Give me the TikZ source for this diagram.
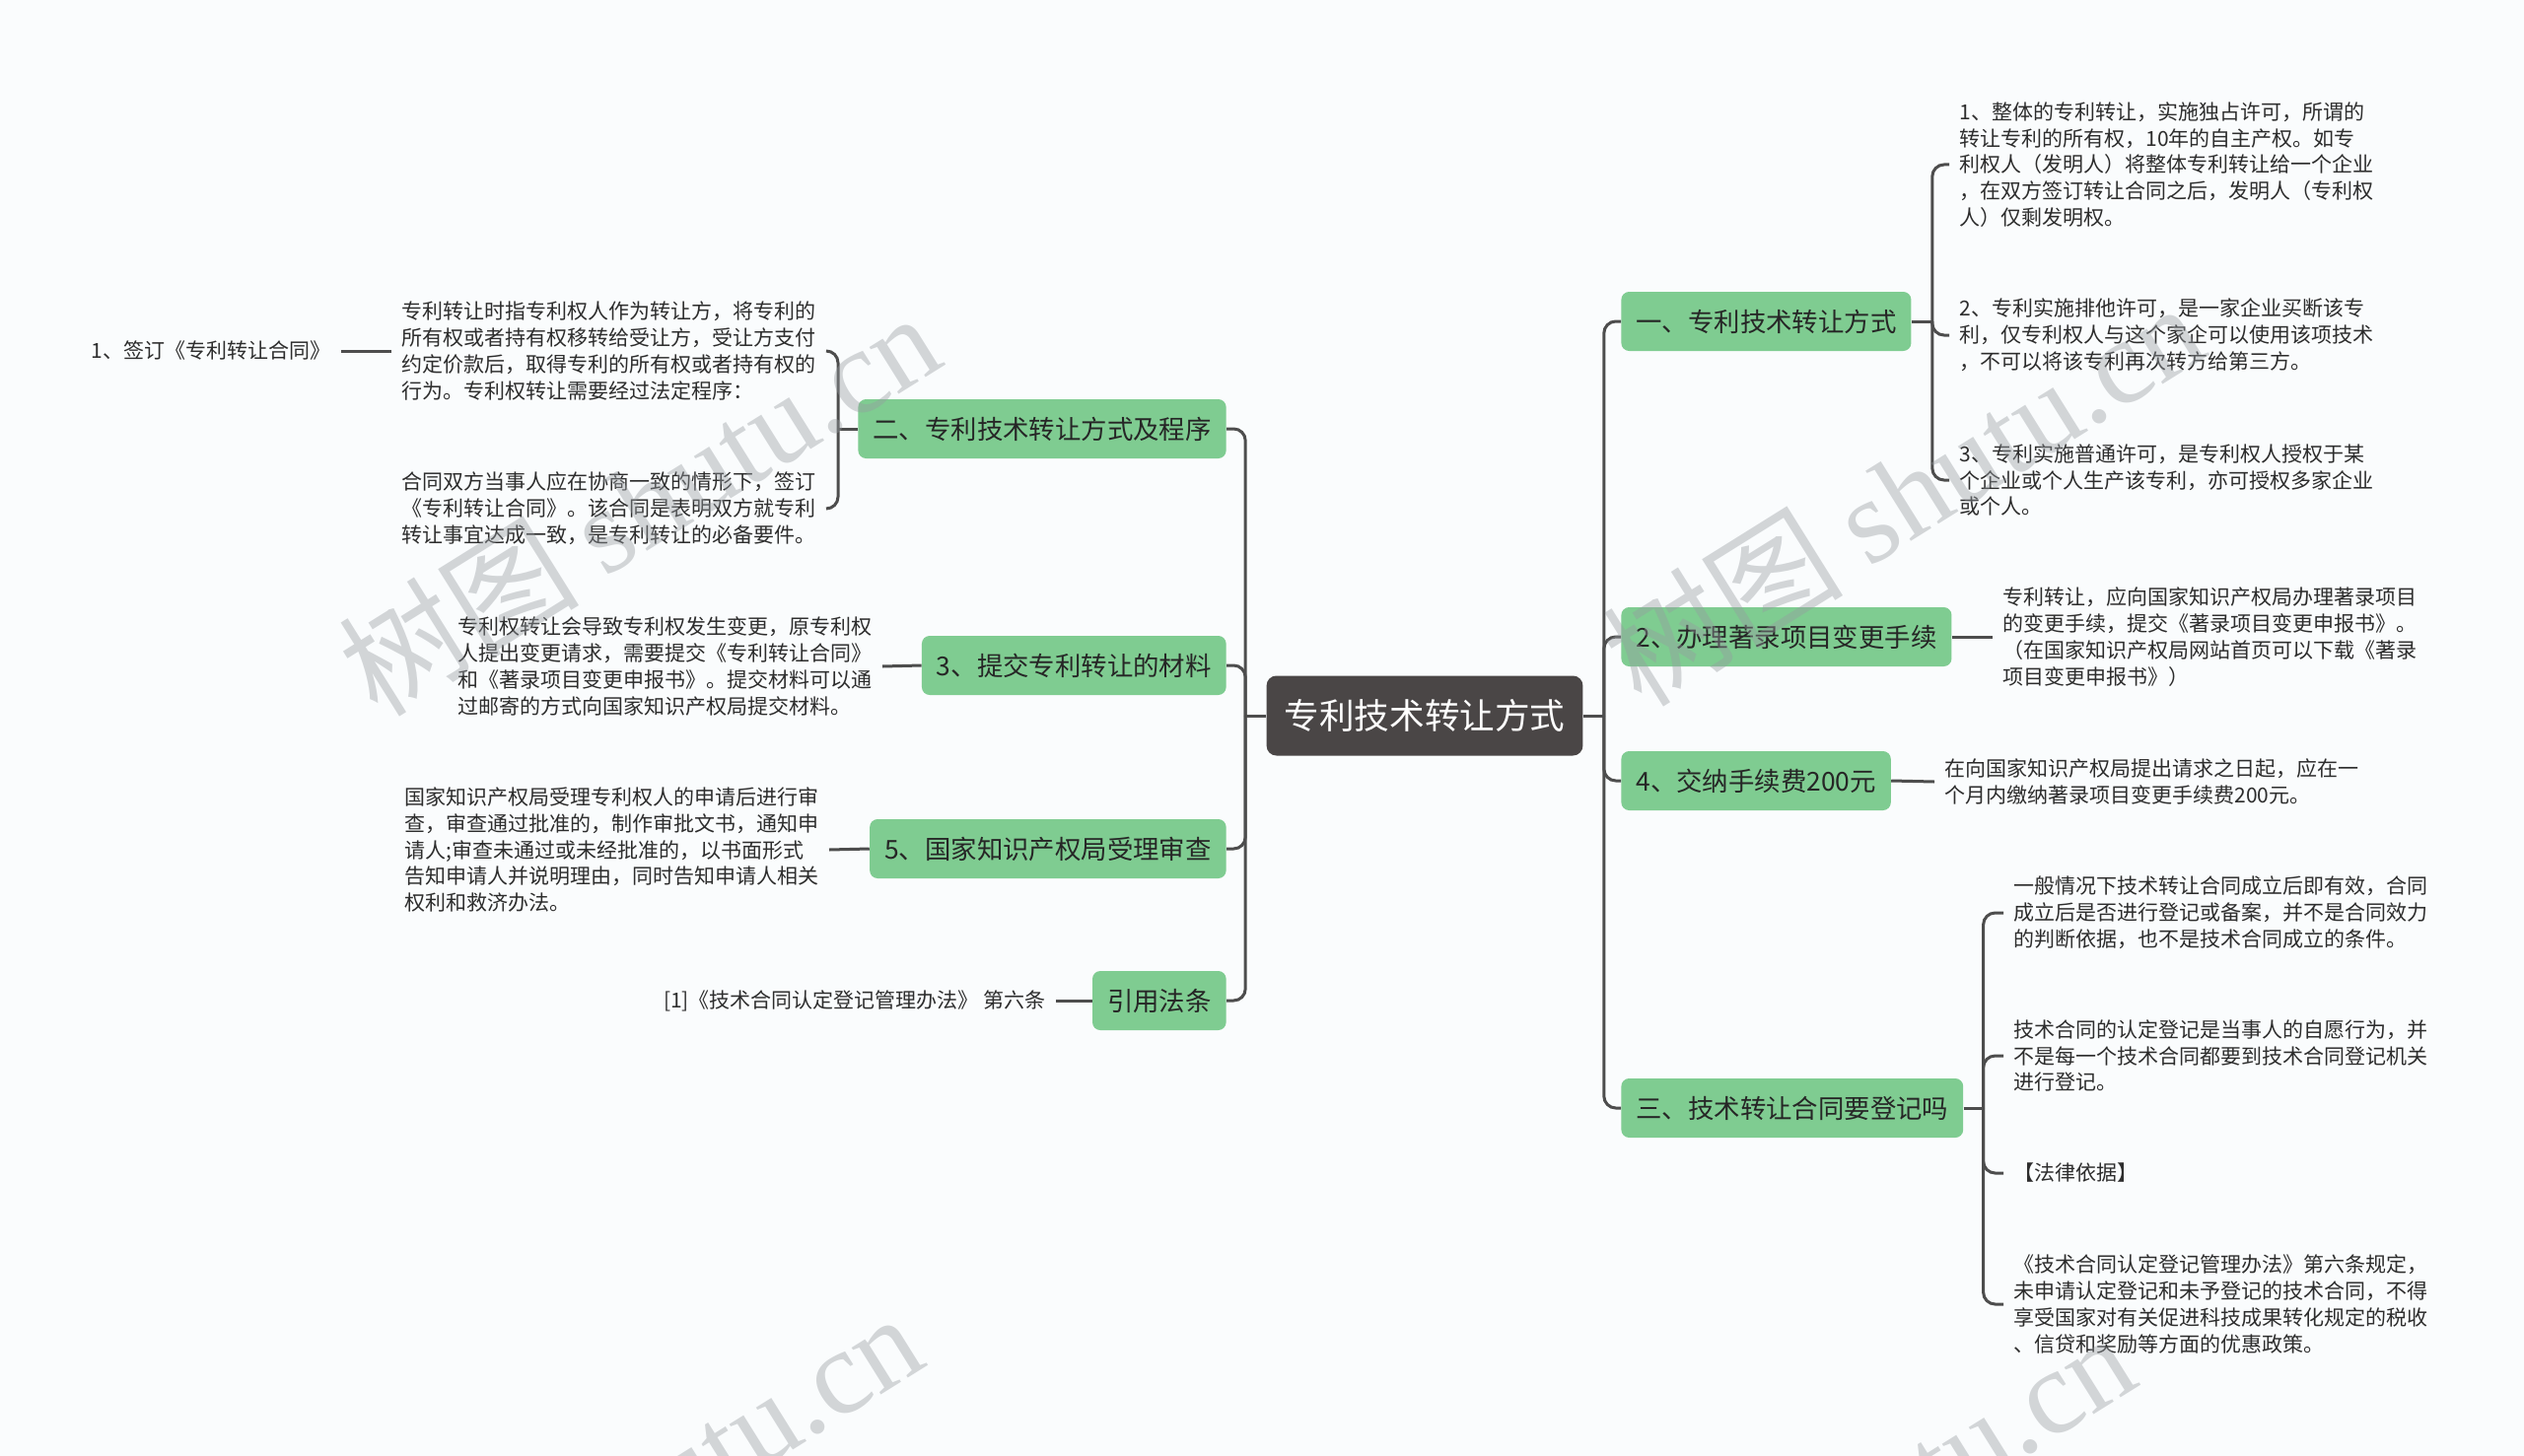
\documentclass[tikz,border=0pt]{standalone}
\usepackage{fontspec}
\setmainfont{Noto Sans CJK SC}
\newfontfamily\wmserif{Liberation Serif}
\definecolor{bg}{RGB}{250,252,253}
\definecolor{gfill}{RGB}{127,204,145}
\definecolor{rootfill}{RGB}{74,70,70}
\definecolor{linec}{RGB}{77,77,77}
\definecolor{txt}{RGB}{45,45,45}
\definecolor{wmc}{RGB}{150,155,160}
\begin{document}
\begin{tikzpicture}[x=0.5pt,y=-0.5pt,
 rootbox/.style={fill=rootfill, rounded corners=5pt, text=white, font=\fontsize{17.8}{22}\selectfont, minimum height=40.5pt, inner xsep=9pt, inner ysep=0pt},
 gbox/.style={fill=gfill, rounded corners=4pt, text=black!85, font=\fontsize{13.2}{16}\selectfont, minimum height=30pt, inner xsep=7.5pt, inner ysep=0pt},
 leaf/.style={text=txt, font=\fontsize{10.5}{13.4}\selectfont, align=left, inner xsep=5pt, inner ysep=2pt},
 conn/.style={draw=linec, line width=1.5pt},
 wm/.style={text=wmc, opacity=0.4, text opacity=0.4, font=\fontsize{61}{68}\selectfont, inner sep=0pt}
]
\useasboundingbox (0,0) rectangle (2560,1477);
\fill[bg] (0,0) rectangle (2560,1477);

% root
\node[rootbox] (root) at (1445,726) {专利技术转让方式};

% left main branches
\node[gbox, anchor=east] (L1) at (1244,435) {二、专利技术转让方式及程序};
\node[gbox, anchor=east] (L2) at (1244,675) {3、提交专利转让的材料};
\node[gbox, anchor=east] (L3) at (1244,861) {5、国家知识产权局受理审查};
\node[gbox, anchor=east] (L4) at (1244,1015) {引用法条};

% right main branches
\node[gbox, anchor=west] (R1) at (1644,326) {一、专利技术转让方式};
\node[gbox, anchor=west] (R2) at (1644,646) {2、办理著录项目变更手续};
\node[gbox, anchor=west] (R3) at (1644,792) {4、交纳手续费200元};
\node[gbox, anchor=west] (R4) at (1644,1124) {三、技术转让合同要登记吗};

% trunks
\path (root.west) ++(-21,0) coordinate (tl);
\path (root.east) ++(21,0) coordinate (tr);
\draw[conn] (root.west) -- (tl);
\draw[conn] (root.east) -- (tr);
\foreach \n in {L1,L2,L3,L4}{\draw[conn, rounded corners=6pt] (tl) |- (\n.east);}
\foreach \n in {R1,R2,R3,R4}{\draw[conn, rounded corners=6pt] (tr) |- (\n.west);}

% left leaves
\node[leaf, anchor=east] (L1a) at (838,356) {专利转让时指专利权人作为转让方，将专利的\\所有权或者持有权移转给受让方，受让方支付\\约定价款后，取得专利的所有权或者持有权的\\行为。专利权转让需要经过法定程序：};
\node[leaf, anchor=east] (L1b) at (838,516) {合同双方当事人应在协商一致的情形下，签订\\《专利转让合同》。该合同是表明双方就专利\\转让事宜达成一致，是专利转让的必备要件。};
\node[leaf, anchor=east] (L1a1) at (346,356) {1、签订《专利转让合同》};
\node[leaf, anchor=east] (L2a) at (895,676) {专利权转让会导致专利权发生变更，原专利权\\人提出变更请求，需要提交《专利转让合同》\\和《著录项目变更申报书》。提交材料可以通\\过邮寄的方式向国家知识产权局提交材料。};
\node[leaf, anchor=east] (L3a) at (841,862) {国家知识产权局受理专利权人的申请后进行审\\查，审查通过批准的，制作审批文书，通知申\\请人;审查未通过或未经批准的，以书面形式\\告知申请人并说明理由，同时告知申请人相关\\权利和救济办法。};
\node[leaf, anchor=east] (L4a) at (1071,1015) {[1]《技术合同认定登记管理办法》 第六条};

\path (L1.west) ++(-20,0) coordinate (bl1);
\draw[conn] (L1.west) -- (bl1);
\draw[conn, rounded corners=6pt] (bl1) |- (L1a.east);
\draw[conn, rounded corners=6pt] (bl1) |- (L1b.east);
\draw[conn] (L1a.west) -- (L1a1.east);
\draw[conn] (L2.west) -- (L2a.east);
\draw[conn] (L3.west) -- (L3a.east);
\draw[conn] (L4.west) -- (L4a.east);

% right leaves
\node[leaf, anchor=west] (R1a) at (1977,167) {1、整体的专利转让，实施独占许可，所谓的\\转让专利的所有权，10年的自主产权。如专\\利权人（发明人）将整体专利转让给一个企业\\，在双方签订转让合同之后，发明人（专利权\\人）仅剩发明权。};
\node[leaf, anchor=west] (R1b) at (1977,340) {2、专利实施排他许可，是一家企业买断该专\\利，仅专利权人与这个家企可以使用该项技术\\，不可以将该专利再次转方给第三方。};
\node[leaf, anchor=west] (R1c) at (1977,487) {3、专利实施普通许可，是专利权人授权于某\\个企业或个人生产该专利，亦可授权多家企业\\或个人。};
\node[leaf, anchor=west] (R2a) at (2021,646) {专利转让，应向国家知识产权局办理著录项目\\的变更手续，提交《著录项目变更申报书》。\\（在国家知识产权局网站首页可以下载《著录\\项目变更申报书》）};
\node[leaf, anchor=west] (R3a) at (1962,793) {在向国家知识产权局提出请求之日起，应在一\\个月内缴纳著录项目变更手续费200元。};
\node[leaf, anchor=west] (R4a) at (2032,926) {一般情况下技术转让合同成立后即有效，合同\\成立后是否进行登记或备案，并不是合同效力\\的判断依据，也不是技术合同成立的条件。};
\node[leaf, anchor=west] (R4b) at (2032,1071) {技术合同的认定登记是当事人的自愿行为，并\\不是每一个技术合同都要到技术合同登记机关\\进行登记。};
\node[leaf, anchor=west] (R4c) at (2032,1190) {【法律依据】};
\node[leaf, anchor=west] (R4d) at (2032,1323) {《技术合同认定登记管理办法》第六条规定，\\未申请认定登记和未予登记的技术合同，不得\\享受国家对有关促进科技成果转化规定的税收\\、信贷和奖励等方面的优惠政策。};

\path (R1.east) ++(21,0) coordinate (br1);
\draw[conn] (R1.east) -- (br1);
\foreach \n in {R1a,R1b,R1c}{\draw[conn, rounded corners=6pt] (br1) |- (\n.west);}
\draw[conn] (R2.east) -- (R2a.west);
\draw[conn] (R3.east) -- (R3a.west);
\path (R4.east) ++(20,0) coordinate (br4);
\draw[conn] (R4.east) -- (br4);
\foreach \n in {R4a,R4b,R4c,R4d}{\draw[conn, rounded corners=6pt] (br4) |- (\n.west);}

% watermarks
\begin{scope}
\clip (0,0) rectangle (2560,1477);
\node[wm, rotate=32] (wm1) at (648,510) {树图 {\wmserif shutu.cn}};
\node[wm, rotate=32] (wm2) at (1930,500) {树图 {\wmserif shutu.cn}};
\node[wm, rotate=32] (wm3) at (630,1525) {树图 {\wmserif shutu.cn}};
\node[wm, rotate=32] (wm4) at (1860,1545) {树图 {\wmserif shutu.cn}};
\end{scope}
\end{tikzpicture}
\end{document}
